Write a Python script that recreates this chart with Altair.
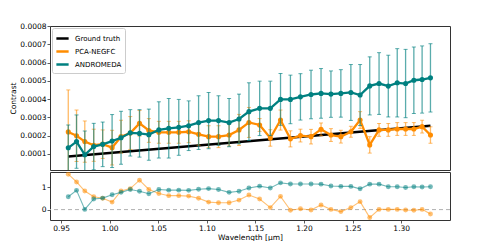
import altair as alt
import pandas as pd

FONT = "DejaVu Sans"

# Wavelength channels [µm]
wavelength = [0.9574, 0.9659, 0.9744, 0.9836, 0.9928, 1.0025, 1.0117, 1.0212, 1.0307, 1.0403,
              1.0506, 1.0608, 1.0711, 1.0813, 1.0915, 1.1018, 1.1120, 1.1229, 1.1331, 1.1433,
              1.1543, 1.1653, 1.1758, 1.1860, 1.1963, 1.2072, 1.2175, 1.2277, 1.2379, 1.2482,
              1.2577, 1.2676, 1.2772, 1.2867, 1.2959, 1.3045, 1.3130, 1.3215, 1.3301]

# Contrast values in units of 1e-4
pca = [2.20, 1.99, 1.67, 1.47, 1.53, 1.34, 1.94, 2.14, 2.67, 2.28,
       2.18, 2.18, 2.18, 2.21, 2.07, 1.94, 1.94, 2.03, 2.31, 2.72,
       2.58, 1.87, 2.85, 1.82, 2.00, 1.94, 2.34, 2.03, 1.94, 2.21,
       2.85, 1.49, 2.31, 2.31, 2.36, 2.36, 2.36, 2.49, 2.03]
pca_err = [2.30, 1.41, 1.13, 0.88, 0.78, 0.95, 0.90, 0.90, 0.70, 0.65,
           0.60, 0.60, 0.60, 0.60, 0.60, 0.60, 0.60, 0.60, 0.85, 0.82,
           0.35, 0.45, 0.55, 0.44, 0.35, 0.40, 0.35, 0.35, 0.35, 0.30,
           0.46, 0.45, 0.35, 0.35, 0.35, 0.35, 0.35, 0.35, 0.45]
andromeda = [1.33, 1.67, 0.95, 1.40, 1.52, 1.70, 1.88, 2.15, 2.12, 2.05,
             2.31, 2.40, 2.45, 2.54, 2.71, 2.82, 2.82, 2.71, 2.91, 3.31,
             3.49, 3.49, 3.98, 3.98, 4.12, 4.25, 4.31, 4.27, 4.31, 4.36,
             4.22, 4.72, 4.85, 4.71, 4.89, 4.85, 5.03, 5.07, 5.16]
andromeda_err = [1.25, 1.46, 1.30, 1.27, 1.22, 1.45, 1.45, 1.27, 1.30, 1.40,
                 1.54, 1.63, 1.53, 1.36, 1.47, 1.54, 1.36, 1.32, 1.36, 1.58,
                 1.49, 1.49, 1.42, 1.33, 1.27, 1.33, 1.36, 1.27, 1.30, 1.53,
                 1.67, 1.59, 1.69, 1.69, 1.87, 1.87, 1.82, 1.84, 1.87]

truth_wl = [0.9574, 1.3301]
truth = [0.85, 2.54]

# Relative error (lower panel)
pca_rel = [1.60, 1.25, 0.84, 0.58, 0.51, 0.34, 0.84, 0.95, 1.33, 0.91,
           0.73, 0.63, 0.63, 0.61, 0.51, 0.34, 0.31, 0.31, 0.43, 0.66,
           0.48, 0.09, 0.60, -0.03, 0.04, -0.02, 0.21, 0.01, -0.09, 0.09,
           0.36, -0.36, 0.01, 0.01, 0.01, -0.02, -0.03, 0.01, -0.20]
andromeda_rel = [0.58, 0.87, 0.01, 0.48, 0.52, 0.67, 0.78, 0.91, 0.83, 0.72,
                 0.91, 0.88, 0.88, 0.87, 0.92, 0.95, 0.91, 0.78, 0.83, 0.98,
                 1.06, 0.98, 1.21, 1.16, 1.16, 1.16, 1.15, 1.07, 1.05, 1.05,
                 0.94, 1.15, 1.15, 1.03, 1.03, 1.00, 1.03, 1.02, 1.03]

contrast_ticks = [0.0001, 0.0002, 0.0003, 0.0004, 0.0005, 0.0006, 0.0007, 0.0008]
wl_ticks = [0.95, 1.00, 1.05, 1.10, 1.15, 1.20, 1.25, 1.30]

series_names = ["Ground truth", "PCA-NEGFC", "ANDROMEDA"]
series_colors = ["black", "#ff8c00", "#008080"]

S = 1e-4
rows = []
for w, v, e in zip(wavelength, pca, pca_err):
    rows.append({"wl": w, "series": "PCA-NEGFC", "v": v * S, "lo": (v - e) * S, "hi": (v + e) * S})
for w, v, e in zip(wavelength, andromeda, andromeda_err):
    rows.append({"wl": w, "series": "ANDROMEDA", "v": v * S, "lo": (v - e) * S, "hi": (v + e) * S})
df = pd.DataFrame(rows)
df_truth = pd.DataFrame({"wl": truth_wl, "series": "Ground truth", "v": [t * S for t in truth]})

rel_rows = []
for w, a in zip(wavelength, pca_rel):
    rel_rows.append({"wl": w, "series": "PCA-NEGFC", "r": a})
for w, a in zip(wavelength, andromeda_rel):
    rel_rows.append({"wl": w, "series": "ANDROMEDA", "r": a})
df_rel = pd.DataFrame(rel_rows)

W = 400
xscale = alt.Scale(domain=[0.9386, 1.3502], nice=False, zero=False)
yscale = alt.Scale(domain=[0.0000115, 0.00080002], nice=False, zero=False)
color = alt.Color("series:N",
                  scale=alt.Scale(domain=series_names, range=series_colors),
                  legend=alt.Legend(title=None, orient="top-left", offset=2,
                                    symbolType="stroke", symbolStrokeWidth=2.5,
                                    symbolSize=150, labelFont=FONT, labelFontSize=7,
                                    strokeColor="#cccccc", fillColor="white",
                                    cornerRadius=2, padding=3, rowPadding=0,
                                    labelOffset=5, labelLimit=200))

yaxis = alt.Axis(values=contrast_ticks, format=".4f", titlePadding=2, labelOverlap=False)
xtop = alt.X("wl:Q", scale=xscale, axis=None)

def yq(field):
    return alt.Y(field, scale=yscale, title="Contrast", axis=yaxis)

base = alt.Chart(df)

truth_line = alt.Chart(df_truth).mark_line(strokeWidth=2.5, clip=True).encode(
    x=xtop, y=yq("v:Q"), color=color)

def series_layers(name, col, err_opacity):
    d = base.transform_filter(alt.datum.series == name)
    rule = d.mark_rule(color=col, opacity=err_opacity, strokeWidth=1.3, clip=True).encode(
        x=xtop, y=yq("lo:Q"), y2="hi:Q")
    cap_lo = d.mark_tick(color=col, opacity=err_opacity, orient="horizontal", size=4,
                         thickness=1, clip=True).encode(x=xtop, y=yq("lo:Q"))
    cap_hi = d.mark_tick(color=col, opacity=err_opacity, orient="horizontal", size=4,
                         thickness=1, clip=True).encode(x=xtop, y=yq("hi:Q"))
    line = d.mark_line(strokeWidth=2.3, clip=True).encode(x=xtop, y=yq("v:Q"), color=color)
    pts = d.mark_point(filled=True, size=26, opacity=1, color=col, clip=True).encode(
        x=xtop, y=yq("v:Q"))
    return [rule, cap_lo, cap_hi, line, pts]

top = alt.layer(truth_line,
                *series_layers("PCA-NEGFC", "#ff8c00", 0.6),
                *series_layers("ANDROMEDA", "#008080", 0.65)).properties(width=W, height=144)

# lower panel
xbot = alt.X("wl:Q", scale=xscale, title="Wavelength [µm]",
             axis=alt.Axis(values=wl_ticks, format=".2f", titlePadding=2))
rscale = alt.Scale(domain=[-0.47, 1.70], nice=False, zero=False)
raxis = alt.Axis(values=[0, 1], format="d")
ybot = alt.Y("r:Q", scale=rscale, title=None, axis=raxis)

zero_rule = alt.Chart(pd.DataFrame({"r": [0]})).mark_rule(
    color="#b0b0b0", strokeDash=[4, 3], strokeWidth=1).encode(y=ybot)

def rel_layers(name, col):
    d = alt.Chart(df_rel).transform_filter(alt.datum.series == name)
    line = d.mark_line(color=col, opacity=0.55, strokeWidth=1.1, clip=True).encode(x=xbot, y=ybot)
    pts = d.mark_point(filled=True, color=col, opacity=0.55, size=24, clip=True).encode(x=xbot, y=ybot)
    return [line, pts]

bottom = alt.layer(zero_rule, *rel_layers("PCA-NEGFC", "#ff8c00"),
                   *rel_layers("ANDROMEDA", "#008080")).properties(width=W, height=48)

chart = alt.vconcat(top, bottom, spacing=0).resolve_scale(
    color="independent", x="shared").resolve_legend(color="independent").properties(
    padding={"left": 1, "top": 13, "right": 5, "bottom": 0}
).configure_view(stroke="#333333", strokeWidth=1).configure_axis(
    labelFont=FONT, titleFont=FONT, labelFontSize=7.5, titleFontSize=7.5,
    labelColor="black", titleColor="black", titleFontWeight="normal",
    tickColor="#333333", tickSize=3, tickWidth=0.8, domain=False, grid=False,
    labelPadding=1
)

chart.save("out.html", embed_options={"renderer": "svg", "actions": False})
